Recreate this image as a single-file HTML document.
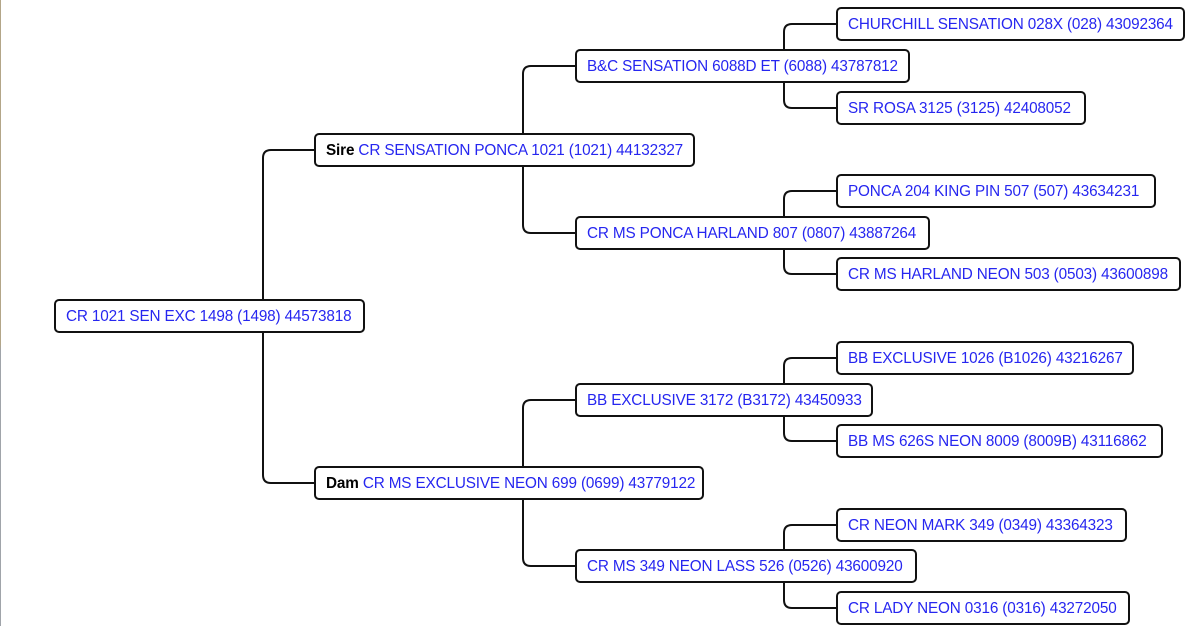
<!DOCTYPE html>
<html>
<head>
<meta charset="utf-8">
<style>
  html,body{margin:0;padding:0;background:#fff;}
  body{width:1200px;height:626px;position:relative;overflow:hidden;font-family:"Liberation Sans",Arial,sans-serif;}
  .edge{position:absolute;left:0;top:0;width:1px;height:626px;background:linear-gradient(#b3a688 0%,#b3a688 55%,#a0a4aa 56%,#a0a4aa 100%);}
  svg{position:absolute;left:0;top:0;}
  .b{position:absolute;height:34px;box-sizing:border-box;border:2px solid #111;border-radius:5px;background:#fff;
     font-size:15.3px;letter-spacing:-0.15px;line-height:32px;padding-left:10px;color:#2626f0;white-space:nowrap;overflow:hidden;}
  .b strong{color:#000;font-weight:bold;}
</style>
</head>
<body>
<div class="edge"></div>
<svg width="1200" height="626" viewBox="0 0 1200 626">
  <g fill="none" stroke="#111" stroke-width="2">
    <path d="M314,150 H271 Q263,150 263,158 V475 Q263,483 271,483 H314"/>
    <path d="M575,66 H531 Q523,66 523,74 V225 Q523,233 531,233 H575"/>
    <path d="M575,400 H531 Q523,400 523,408 V558 Q523,566 531,566 H575"/>
    <path d="M836,24 H792 Q784,24 784,32 V100 Q784,108 792,108 H836"/>
    <path d="M836,191 H792 Q784,191 784,199 V266 Q784,274 792,274 H836"/>
    <path d="M836,358 H792 Q784,358 784,366 V433 Q784,441 792,441 H836"/>
    <path d="M836,525 H792 Q784,525 784,533 V600 Q784,608 792,608 H836"/>
  </g>
</svg>

<div class="b" style="left:836px;top:7px;width:349px;">CHURCHILL SENSATION 028X (028) 43092364</div>
<div class="b" style="left:575px;top:49px;width:335px;">B&amp;C SENSATION 6088D ET (6088) 43787812</div>
<div class="b" style="left:836px;top:91px;width:250px;">SR ROSA 3125 (3125) 42408052</div>
<div class="b" style="left:314px;top:133px;width:381px;"><strong>Sire</strong> CR SENSATION PONCA 1021 (1021) 44132327</div>
<div class="b" style="left:836px;top:174px;width:320px;">PONCA 204 KING PIN 507 (507) 43634231</div>
<div class="b" style="left:575px;top:216px;width:355px;">CR MS PONCA HARLAND 807 (0807) 43887264</div>
<div class="b" style="left:836px;top:257px;width:345px;">CR MS HARLAND NEON 503 (0503) 43600898</div>
<div class="b" style="left:54px;top:299px;width:311px;">CR 1021 SEN EXC 1498 (1498) 44573818</div>
<div class="b" style="left:836px;top:341px;width:298px;">BB EXCLUSIVE 1026 (B1026) 43216267</div>
<div class="b" style="left:575px;top:383px;width:298px;">BB EXCLUSIVE 3172 (B3172) 43450933</div>
<div class="b" style="left:836px;top:424px;width:327px;">BB MS 626S NEON 8009 (8009B) 43116862</div>
<div class="b" style="left:314px;top:466px;width:390px;"><strong>Dam</strong> CR MS EXCLUSIVE NEON 699 (0699) 43779122</div>
<div class="b" style="left:836px;top:508px;width:291px;">CR NEON MARK 349 (0349) 43364323</div>
<div class="b" style="left:575px;top:549px;width:342px;">CR MS 349 NEON LASS 526 (0526) 43600920</div>
<div class="b" style="left:836px;top:591px;width:294px;">CR LADY NEON 0316 (0316) 43272050</div>
</body>
</html>
